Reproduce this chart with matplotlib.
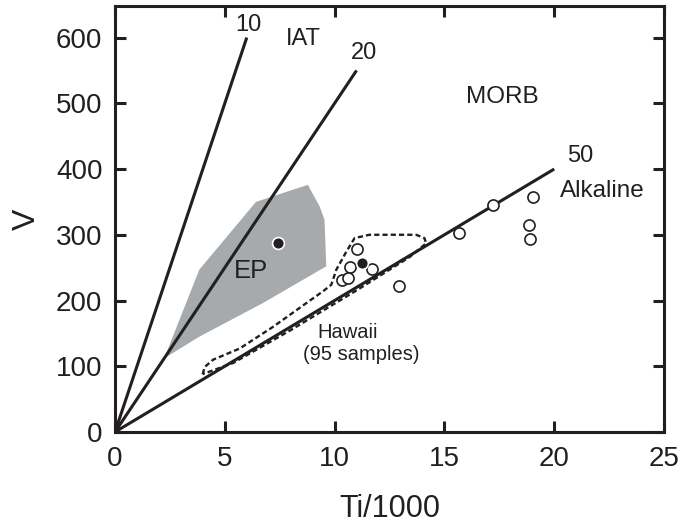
import numpy as np
import matplotlib
matplotlib.use('Agg')
import matplotlib.pyplot as plt
from matplotlib.patches import Polygon

plt.rcParams['font.family'] = ['Liberation Sans', 'DejaVu Sans']

# Ti/V reference lines: ratio and end of the drawn line (Ti/1000)
ratios = [10, 20, 50]
ratio_end_x = [6.0, 11.0, 20.0]

# EP field (grey)
ep_x = [2.24, 3.84, 6.42, 8.78, 9.32, 9.54, 9.62, 6.73, 3.84]
ep_v = [112, 247, 350, 376, 343, 323, 252, 196, 145]

# Hawaii field outline (dashed)
haw_x = [3.99, 4.09, 4.47, 5.68, 7.20, 8.71, 9.47, 9.85, 10.08, 10.53, 10.91,
         11.59, 13.71, 14.09, 14.17, 13.41, 10.98, 7.95, 5.38, 4.32, 3.99]
haw_v = [88, 99, 110, 127, 160, 196, 214, 224, 247, 274, 295,
         300, 300, 295, 287, 266, 215, 154, 105, 92, 88]

# samples
open_x = [11.02, 10.72, 11.72, 10.35, 10.61, 12.92, 15.68, 17.23, 19.02, 18.83, 18.90]
open_v = [278, 251, 248, 231, 234, 222, 303, 345, 357, 315, 294]
filled_x = [7.41, 11.25]
filled_v = [287, 257]

INK = '#231f20'

fig = plt.figure(figsize=(6.94, 5.27), dpi=100, facecolor='white')
ax = fig.add_axes([0.1657, 0.1803, 0.7911, 0.8083])

ax.add_patch(Polygon(np.column_stack([ep_x, ep_v]), closed=True,
                     facecolor='#a6aaac', edgecolor='none', zorder=1))

ax.plot(haw_x, haw_v, color=INK, lw=1.7, ls=(0, (2.2, 1.3)), zorder=2)

for r, xe in zip(ratios, ratio_end_x):
    ax.plot([0, xe], [0, xe * 1000 / r], color=INK, lw=2.2,
            solid_capstyle='butt', zorder=3)

ax.plot(open_x, open_v, 'o', ms=8, mfc='white', mec=INK, mew=1.2, zorder=4)
ax.plot(filled_x, filled_v, 'o', ms=8.5, mfc=INK, mec='white', mew=1.2, zorder=5)

txt = dict(color=INK, ha='center', va='center')
ax.text(6.09, 619, '10', fontsize=17, **txt)
ax.text(11.36, 576, '20', fontsize=17, **txt)
ax.text(21.2, 420, '50', fontsize=17, **txt)
ax.text(8.59, 598, 'IAT', fontsize=17, **txt)
ax.text(17.65, 510, 'MORB', fontsize=17.5, **txt)
ax.text(22.2, 366, 'Alkaline', fontsize=17.5, **txt)
ax.text(6.2, 245, 'EP', fontsize=18.5, **txt)
ax.text(10.6, 152, 'Hawaii', fontsize=14.5, **txt)
ax.text(11.2, 118, '(95 samples)', fontsize=14.5, **txt)

ax.set_xlim(0, 25)
ax.set_ylim(0, 648)
ax.set_xticks([0, 5, 10, 15, 20, 25])
ax.set_yticks([0, 100, 200, 300, 400, 500, 600])
ax.tick_params(direction='in', length=8, width=2.2, top=True, right=True,
               labelsize=20, colors=INK)
ax.tick_params(axis='x', pad=10)
ax.tick_params(axis='y', pad=9)
for s in ax.spines.values():
    s.set_linewidth(2.2)
    s.set_color(INK)

ax.set_xlabel('Ti/1000', fontsize=22, color=INK, labelpad=16)
ax.set_ylabel('V', fontsize=23, color=INK, labelpad=10)

fig.savefig('out.png', dpi=100)
plt.close(fig)
